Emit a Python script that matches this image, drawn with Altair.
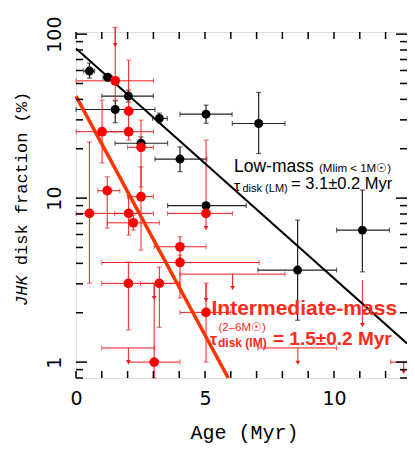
import altair as alt
import pandas as pd

W, H = 331, 346

# ---------------- data ----------------
# Low-mass clusters (black)
lm_age  = [0.52, 1.23, 2.03, 1.52, 3.23, 2.52, 4.03, 5.04, 7.08, 5.04, 8.59, 11.1]
lm_frac = [59.5, 54.5, 41.9, 34.7, 30.6, 21.6, 17.3, 32.5, 28.5, 9.0, 3.64, 6.38]
lm_xlo  = [0.30, 1.05, 1.00, 0.00, 2.97, 1.51, 3.06, 4.03, 6.06, 3.55, 7.05, 10.1]
lm_xhi  = [0.72, 1.40, 3.00, 3.06, 3.54, 3.55, 5.07, 6.05, 8.10, 6.60, 10.1, 12.15]
lm_ylo  = [53.9, 52.0, 38.5, 28.8, 28.7, 19.6, 14.5, 28.6, 18.7, 9.0, 1.80, 3.55]
lm_yhi  = [66.6, 57.0, 45.6, 39.2, 33.0, 23.6, 20.5, 36.9, 44.1, 9.0, 7.34, 11.2]

# Intermediate-mass clusters (red)
im_age  = [1.52, 2.04, 1.01, 2.04, 2.52, 1.21, 2.52, 0.52, 2.04, 5.04, 2.22, 4.03, 4.03, 2.03, 3.23, 5.04, 3.03]
im_frac = [51.9, 33.9, 25.4, 25.4, 20.4, 11.1, 10.2, 8.07, 8.07, 8.07, 7.07, 5.05, 4.05, 3.02, 3.02, 2.01, 1.0]
im_xlo  = [0.00, 2.04, 0.00, 1.00, 2.00, 0.85, 2.00, 0.00, 1.50, 3.55, 1.21, 3.03, 1.00, 1.00, 2.50, 4.03, 2.03]
im_xhi  = [3.00, 2.04, 2.00, 3.00, 3.00, 1.70, 3.00, 3.00, 2.50, 6.07, 3.23, 5.04, 7.10, 4.03, 4.00, 6.00, 4.03]
im_ylo  = [39.6, 22.6, 16.4, 25.4, 11.7, 6.56, 4.82, 3.03, 5.95, 8.07, 6.38, 4.07, 2.46, 1.57, 1.63, 1.0, 0.8]
im_yhi  = [110, 69.4, 39.6, 25.4, 29.9, 13.5, 15.5, 22.0, 10.4, 22.6, 7.87, 5.81, 4.49, 4.07, 3.80, 3.03, 3.03]

# Upper limits (red arrows)
ul_age  = [1.52, 6.07, 8.6, 2.03, 12.7, 11.1, 5.04, 5.04, 3.03]
ul_frac = [110, 3.44, 1.22, 1.22, 1.0, 3.16, 8.07, 3.03, 3.02]
ul_end  = [85.7, 2.83, 0.99, 1.0, 0.87, 1.68, 6.56, 2.39, 2.46]
ul_xlo  = [1.52, 4.03, 7.05, 1.0, 12.2, 11.1, 5.04, 5.04, 3.03]
ul_xhi  = [1.52, 8.10, 10.1, 3.03, 13.5, 11.1, 5.04, 5.04, 3.03]

# Exponential fits (end points)
lm_fit_age  = [0, 12.83]
lm_fit_frac = [81.8, 1.30]
im_fit_age  = [0, 5.9]
im_fit_frac = [41.9, 0.8]

x_tick_vals = list(range(0, 13))
y_major_vals = [1, 10, 100]
y_minor_vals = [0.8, 0.9, 2, 3, 4, 5, 6, 7, 8, 9, 20, 30, 40, 50, 60, 70, 80, 90]

# ---------------- styles ----------------
RED = "#ff0000"
RED_ERR = "#f01c1c"
RED_FIT = "#ff3300"
RED_TXT = "#ff2a1a"
BLK_ERR = "#222222"

xs = alt.Scale(domain=[0, 12.83], nice=False, zero=False)
ys = alt.Scale(type="log", domain=[0.8, 103], nice=False)
xaxis = alt.Axis(values=[0, 5, 10], ticks=False, domain=False, grid=False,
                 labelFont="DejaVu Sans", labelFontSize=19, labelColor="black",
                 labelPadding=11, labelFlush=False, format="d", labelOverlap=False)
yaxis = alt.Axis(values=[1, 10, 100], ticks=False, domain=False, grid=False,
                 labelFont="DejaVu Sans", labelFontSize=19, labelColor="black",
                 labelAngle=270, labelAlign="center", labelBaseline="middle",
                 labelPadding=22, labelFlush=False, format="d", labelOverlap=False)


def X(f):
    return alt.X(f, type="quantitative", scale=xs, axis=xaxis, title=None)


def Y(f):
    return alt.Y(f, type="quantitative", scale=ys, axis=yaxis, title=None)


lm = pd.DataFrame(dict(age=lm_age, frac=lm_frac, xlo=lm_xlo, xhi=lm_xhi, ylo=lm_ylo, yhi=lm_yhi))
im = pd.DataFrame(dict(age=im_age, frac=im_frac, xlo=im_xlo, xhi=im_xhi, ylo=im_ylo, yhi=im_yhi))
ul = pd.DataFrame(dict(age=ul_age, frac=ul_frac, end=ul_end, xlo=ul_xlo, xhi=ul_xhi))
lmfit = pd.DataFrame(dict(age=lm_fit_age, frac=lm_fit_frac))
imfit = pd.DataFrame(dict(age=im_fit_age, frac=im_fit_frac))


def errbars(df, color, width):
    base = alt.Chart(df)
    xb = base.mark_rule(color=color, strokeWidth=width).encode(
        x=X("xlo"), x2=alt.X2("xhi"), y=Y("frac"))
    yb = base.mark_rule(color=color, strokeWidth=width).encode(
        x=X("age"), y=Y("ylo"), y2=alt.Y2("yhi"))
    xc = base.transform_filter("datum.xhi > datum.xlo").transform_fold(
        ["xlo", "xhi"], as_=["k", "xv"]).mark_tick(
        orient="vertical", size=5, thickness=width, color=color).encode(
        x=X("xv"), y=Y("frac"))
    yc = base.transform_filter("datum.yhi > datum.ylo").transform_fold(
        ["ylo", "yhi"], as_=["k", "yv"]).mark_tick(
        orient="horizontal", size=5, thickness=width, color=color).encode(
        x=X("age"), y=Y("yv"))
    return [xb, yb, xc, yc]


lm_err = errbars(lm, BLK_ERR, 1.2)
im_err = errbars(im, RED_ERR, 1.0)

ulb = alt.Chart(ul)
ul_h = ulb.transform_filter("datum.xhi > datum.xlo").mark_rule(color=RED_ERR, strokeWidth=1).encode(
    x=X("xlo"), x2=alt.X2("xhi"), y=Y("frac"))
ul_hc = ulb.transform_filter("datum.xhi > datum.xlo").transform_fold(
    ["xlo", "xhi"], as_=["k", "xv"]).mark_tick(orient="vertical", size=5, thickness=1, color=RED_ERR).encode(
    x=X("xv"), y=Y("frac"))
ul_v = ulb.mark_rule(color=RED_ERR, strokeWidth=1).encode(x=X("age"), y=Y("frac"), y2=alt.Y2("end"))
ul_a = ulb.mark_point(shape="triangle-down", filled=True, size=22, color=RED_ERR, opacity=1).encode(
    x=X("age"), y=Y("end"))

lm_line = alt.Chart(lmfit).mark_line(color="black", strokeWidth=2).encode(x=X("age"), y=Y("frac"))
im_line = alt.Chart(imfit).mark_line(color=RED_FIT, strokeWidth=3.5).encode(x=X("age"), y=Y("frac"))

lm_pts = alt.Chart(lm).mark_point(filled=True, size=80, color="black", opacity=1).encode(x=X("age"), y=Y("frac"))
im_pts = alt.Chart(im).mark_point(filled=True, size=95, color=RED, opacity=1).encode(x=X("age"), y=Y("frac"))

# frame ticks (inward)
xt = pd.DataFrame(dict(v=x_tick_vals))
ymaj = pd.DataFrame(dict(v=y_major_vals))
ymin = pd.DataFrame(dict(v=y_minor_vals))
tk = dict(color="black", strokeWidth=1.5)
ticks = [
    alt.Chart(xt).mark_rule(**tk).encode(x=X("v"), y=alt.value(H), y2=alt.value(H - 7)),
    alt.Chart(xt).mark_rule(**tk).encode(x=X("v"), y=alt.value(0), y2=alt.value(7)),
    alt.Chart(ymaj).mark_rule(**tk).encode(y=Y("v"), x=alt.value(0), x2=alt.value(11)),
    alt.Chart(ymin).mark_rule(**tk).encode(y=Y("v"), x=alt.value(0), x2=alt.value(7)),
    alt.Chart(ymaj).mark_rule(**tk).encode(y=Y("v"), x=alt.value(W), x2=alt.value(W - 11)),
    alt.Chart(ymin).mark_rule(**tk).encode(y=Y("v"), x=alt.value(W), x2=alt.value(W - 7)),
]

one = pd.DataFrame({"k": [0]})


def txt(s, x, y, size, color="black", weight="normal", font="Liberation Sans",
        angle=0, align="left", baseline="alphabetic", style="normal"):
    return alt.Chart(one).mark_text(
        text=s, fontSize=size, color=color, fontWeight=weight, font=font,
        angle=angle, align=align, baseline=baseline, fontStyle=style).encode(
        x=alt.value(x), y=alt.value(y))


texts = [
    txt("Low-mass", 158, 140, 17.5),
    txt("(Mlim < 1M\u2609)", 243, 140, 11.5),
    txt("\u03c4", 158, 158.5, 15.5),
    txt("disk (LM)", 166.5, 159.5, 11),
    txt("= 3.1\u00b10.2 Myr", 215, 157, 16.5),
    txt("Intermediate-mass", 135.5, 283, 21, RED_TXT, "bold"),
    txt("(2\u20136M\u2609)", 142.5, 298.5, 11.5, RED_TXT),
    txt("\u03c4", 134, 312.5, 16, RED_TXT, "bold"),
    txt("disk (IM)", 142, 314.5, 12, RED_TXT, "bold"),
    txt("= 1.5\u00b10.2 Myr", 197, 312.5, 19, RED_TXT, "bold"),
    # axis titles
    txt("Age (Myr)", 168.5, 401, 20, font="Liberation Mono", align="center", baseline="middle"),
    txt("JHK", -54, 274, 17, font="Liberation Mono", angle=270, baseline="middle", style="italic"),
    txt("disk fraction (%)", -54, 274 - 4 * 10.2, 17, font="Liberation Mono", angle=270, baseline="middle"),
]

layers = lm_err + im_err + [ul_h, ul_hc, ul_v, ul_a, lm_line, im_line, lm_pts, im_pts] + ticks + texts

chart = alt.layer(*layers).properties(
    width=W, height=H,
    autosize=alt.AutoSizeParams(type="none"),
    padding={"left": 68, "top": 24, "right": 0, "bottom": 67},
).configure_view(stroke="black", strokeWidth=2).configure(background="white")

chart.save("out.html", embed_options={"renderer": "svg", "actions": False})
